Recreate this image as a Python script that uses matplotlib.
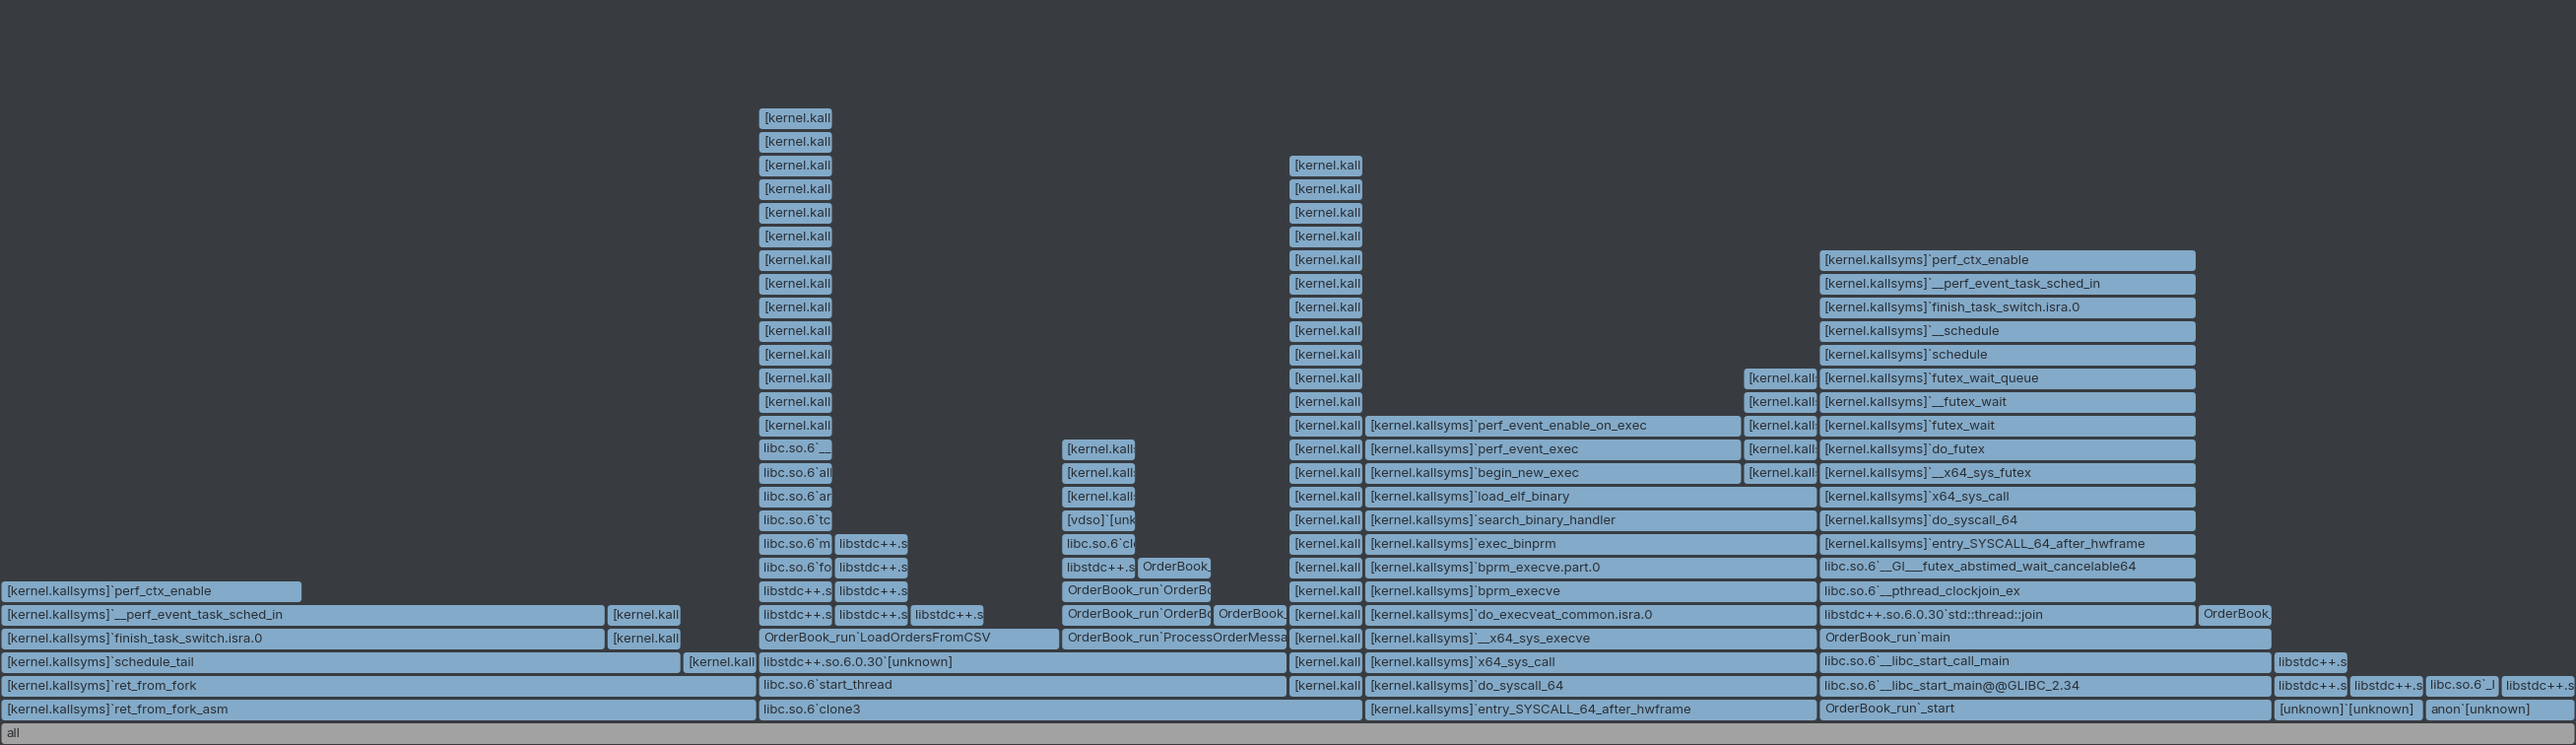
"""Flame graph of an OrderBook_run perf capture."""

import matplotlib

matplotlib.use("Agg")
import matplotlib.pyplot as plt
from matplotlib.patches import FancyBboxPatch
from matplotlib.transforms import Bbox, TransformedBbox, offset_copy

K = "[kernel.kallsyms]`"


def kern(*names):
    return [K + n for n in names]


# call stacks (root -> leaf) with their sample counts, in drawing order
fork_path = kern("ret_from_fork_asm", "ret_from_fork")
fork_stacks = [
    (fork_path + kern("schedule_tail", "finish_task_switch.isra.0",
                      "__perf_event_task_sched_in", "perf_ctx_enable"), 4),
    (fork_path + kern("schedule_tail", "finish_task_switch.isra.0",
                      "__perf_event_task_sched_in"), 4),
    (fork_path + kern("schedule_tail", "raw_spin_rq_unlock", "_raw_spin_unlock"), 1),
    (fork_path + kern("syscall_exit_to_user_mode"), 1),
]

thread_path = ["libc.so.6`clone3", "libc.so.6`start_thread", "libstdc++.so.6.0.30`[unknown]"]
csv_path = thread_path + ["OrderBook_run`LoadOrdersFromCSV"]
proc_path = thread_path + ["OrderBook_run`ProcessOrderMessages"]
mmap_kernel = kern("entry_SYSCALL_64_after_hwframe", "do_syscall_64", "x64_sys_call",
                   "__x64_sys_mprotect", "do_mprotect_pkey", "mprotect_fixup",
                   "vma_modify_flags", "vma_modify", "__split_vma", "vma_complete",
                   "vma_adjust_trans_huge", "up_write", "rwsem_wake", "wake_up_q")
clone_kernel = kern("ret_from_fork_asm", "ret_from_fork", "schedule_tail",
                    "finish_task_switch.isra.0", "__perf_event_task_sched_in",
                    "perf_ctx_enable", "x86_pmu_enable", "intel_pmu_enable_all",
                    "native_write_msr", "asm_sysvec_apic_timer_interrupt",
                    "sysvec_apic_timer_interrupt", "__sysvec_apic_timer_interrupt",
                    "hrtimer_interrupt", "__hrtimer_run_queues", "tick_nohz_handler",
                    "update_process_times", "sched_tick", "task_tick_fair",
                    "update_curr", "update_load_avg", "__update_load_avg_se",
                    "accumulate_sum", "decay_load")
clone_stacks = [
    (csv_path + ["libstdc++.so.6.0.30`std::basic_ifstream",
                 "libstdc++.so.6.0.30`std::basic_filebuf::open",
                 "libc.so.6`fopen", "libc.so.6`malloc", "libc.so.6`tcache_init",
                 "libc.so.6`arena_get2", "libc.so.6`alloc_new_heap",
                 "libc.so.6`__mprotect"] + mmap_kernel, 1),
    (csv_path + ["libstdc++.so.6.0.30`std::getline",
                 "libstdc++.so.6.0.30`std::string::_M_append",
                 "libstdc++.so.6.0.30`std::string::_M_mutate",
                 "libstdc++.so.6.0.30`operator new"], 1),
    (csv_path + ["libstdc++.so.6.0.30`std::stod"], 1),
    (csv_path, 1),
    (proc_path + ["OrderBook_run`OrderBook::AddOrder", "OrderBook_run`OrderBook::MatchOrder",
                  "libstdc++.so.6.0.30`std::chrono::steady_clock::now",
                  "libc.so.6`clock_gettime", "[vdso]`[unknown]"]
     + kern("asm_sysvec_apic_timer_interrupt", "sysvec_apic_timer_interrupt",
            "__sysvec_apic_timer_interrupt"), 1),
    (proc_path + ["OrderBook_run`OrderBook::AddOrder", "OrderBook_run`OrderBook::MatchOrder",
                  "OrderBook_run`OrderBook::RecordTrade"], 1),
    (proc_path + ["OrderBook_run`OrderBook::CancelOrder"], 1),
    (["libc.so.6`clone3"] + clone_kernel, 1),
]

exec_path = kern("entry_SYSCALL_64_after_hwframe", "do_syscall_64", "x64_sys_call",
                 "__x64_sys_execve", "do_execveat_common.isra.0", "bprm_execve",
                 "bprm_execve.part.0", "exec_binprm", "search_binary_handler",
                 "load_elf_binary")
exec_stacks = [
    (exec_path + kern("begin_new_exec", "perf_event_exec", "perf_event_enable_on_exec"), 5),
    (exec_path + kern("elf_load", "vm_mmap", "vm_mmap_pgoff", "do_mmap",
                      "mmap_region"), 1),
]

main_path = ["OrderBook_run`_start", "libc.so.6`__libc_start_main@@GLIBC_2.34",
             "libc.so.6`__libc_start_call_main", "OrderBook_run`main"]
main_stacks = [
    (main_path + ["libstdc++.so.6.0.30`std::thread::join",
                  "libc.so.6`__pthread_clockjoin_ex",
                  "libc.so.6`__GI___futex_abstimed_wait_cancelable64"]
     + kern("entry_SYSCALL_64_after_hwframe", "do_syscall_64", "x64_sys_call",
            "__x64_sys_futex", "do_futex", "futex_wait", "__futex_wait",
            "futex_wait_queue", "schedule", "__schedule", "finish_task_switch.isra.0",
            "__perf_event_task_sched_in", "perf_ctx_enable"), 5),
    (main_path + ["OrderBook_run`OrderBook::~OrderBook"], 1),
]

other_stacks = [
    (["[unknown]`[unknown]", "libstdc++.so.6.0.30`std::locale::locale",
      "libstdc++.so.6.0.30`std::locale::_S_initialize"], 1),
    (["[unknown]`[unknown]", "libstdc++.so.6.0.30`std::ios_base::Init::Init"], 1),
    (["anon`[unknown]", "libc.so.6`_IO_file_xsputn"], 1),
    (["anon`[unknown]", "libstdc++.so.6.0.30`std::ostream::flush"], 1),
]

stacks = fork_stacks + clone_stacks + exec_stacks + main_stacks + other_stacks


def fold(stacks):
    """Turn ordered stacks into frames (depth, start, samples, name)."""
    frames = []
    open_frames = []
    prev = []
    pos = 0
    for path, count in stacks:
        path = ["all"] + path
        common = 0
        while common < min(len(path), len(prev)) and path[common] == prev[common]:
            common += 1
        open_frames = open_frames[:common]
        for fr in open_frames:
            fr[2] += count
        for depth in range(common, len(path)):
            fr = [depth, pos, count, path[depth]]
            frames.append(fr)
            open_frames.append(fr)
        pos += count
        prev = path
    return frames, pos


frames, total = fold(stacks)

BG = "#383c41"
BAR = "#83aac8"
ROOT = "#a2a2a2"
TEXT = "#2a2f36"

W, H, DPI = 2615, 756, 100
ROW_PX, BAR_PX = 24, 21
px_x = W / total

fig = plt.figure(figsize=(W / DPI, H / DPI), dpi=DPI, facecolor=BG)
ax = fig.add_axes([0, 0, 1, 1])
ax.set_facecolor(BG)
ax.axis("off")
ax.set_xlim(0, total)
ax.set_ylim(-1 / ROW_PX, H / ROW_PX - 1 / ROW_PX)
renderer = fig.canvas.get_renderer()

pad = 1.5 / px_x
clip_pad = 2.0 / px_x
bar_h = BAR_PX / ROW_PX
rounding = 3.5 / px_x
text_tr = offset_copy(ax.transData, fig=fig, x=4.5, y=0, units="dots")

for depth, start, samples, name in frames:
    patch = FancyBboxPatch(
        (start + pad, depth), samples - 2 * pad, bar_h,
        boxstyle=f"round,pad=0,rounding_size={rounding}",
        mutation_aspect=px_x / ROW_PX,
        facecolor=ROOT if depth == 0 else BAR, edgecolor="none",
    )
    ax.add_patch(patch)
    txt = ax.text(start + pad, depth + bar_h / 2, name, transform=text_tr,
                  ha="left", va="center", fontsize=9.5, family="Inter", color=TEXT)
    box = TransformedBbox(
        Bbox([[start + pad, depth], [start + samples - clip_pad, depth + bar_h]]),
        ax.transData)
    # drop what cannot be seen, keep a partly visible last glyph (clipped)
    label = name
    while len(label) > 1 and txt.get_window_extent(renderer).x1 > box.x1 + 7:
        label = label[:-1]
        txt.set_text(label)
    txt.set_clip_box(box)
    txt.set_clip_on(True)

fig.savefig("out.png", dpi=DPI, facecolor=BG)
